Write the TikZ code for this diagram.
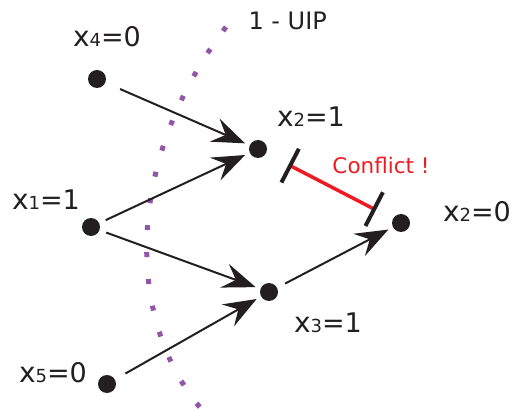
\documentclass[tikz,border=0pt]{standalone}
\usepackage{fontspec}
\setmainfont{DejaVu Sans}
\usepackage{xcolor}
\definecolor{cdark}{RGB}{35,31,32}
\definecolor{cred}{RGB}{237,28,36}
\definecolor{cpurple}{RGB}{146,84,166}
\usetikzlibrary{arrows.meta}
\newcommand{\varlab}[3]{{\fontsize{28}{28}\selectfont #1}{\fontsize{18}{18}\selectfont #2}{\fontsize{27}{27}\selectfont #3}}
\tikzset{
  vdot/.style={circle, fill=cdark, minimum size=18pt, inner sep=0pt},
  link/.style={draw=cdark, line width=2pt, -{Stealth[length=33pt, width=25pt, inset=12pt]}, shorten >=5pt, shorten <=10pt},
}

\begin{document}
\begin{tikzpicture}[x=1pt, y=-1pt]
  \useasboundingbox (0,0) rectangle (511,411);
  % decision cut
  \draw[cpurple, line width=5pt, dash pattern=on 5pt off 22pt]
    (226,27) .. controls (125,160) and (124,320) .. (203,411);
  \node[anchor=west, font=\fontsize{24}{24}\selectfont, cdark] (uip) at (245,21) {1 - UIP};
  % implication graph
  \node[vdot] (x4) at (97,79) {};
  \node[vdot] (x1) at (91,227) {};
  \node[vdot] (x5) at (107,384) {};
  \node[vdot] (x2a) at (258,149) {};
  \node[vdot] (x3) at (269,292) {};
  \node[vdot] (x2b) at (401,223) {};
  \node[cdark] (l4) at (107,37) {\varlab{x}{4}{=0}};
  \node[cdark] (l1) at (46,200) {\varlab{x}{1}{=1}};
  \node[cdark] (l5) at (53,373) {\varlab{x}{5}{=0}};
  \node[cdark] (l2a) at (311,117) {\varlab{x}{2}{=1}};
  \node[cdark] (l3) at (328,323) {\varlab{x}{3}{=1}};
  \node[cdark] (l2b) at (477,212) {\varlab{x}{2}{=0}};
  \draw[link, shorten <=16pt] (x4) -- (x2a);
  \draw[link, shorten <=7pt] (x1) -- (x2a);
  \draw[link, shorten <=7pt] (x1) -- (x3);
  \draw[link, shorten <=12pt] (x5) -- (x3);
  \draw[link, shorten <=9pt] (x3) -- (x2b);
  % conflict
  \draw[cred, line width=3.5pt, {Bar[width=38pt, line width=4pt, color=cdark]}-{Bar[width=38pt, line width=4pt, color=cdark]},
    shorten <=25pt, shorten >=19pt] (x2a) -- (x2b);
  \node[cred, font=\fontsize{21.5}{21.5}\selectfont] (conf) at (381,165) {Conflict !};
\end{tikzpicture}
\end{document}
